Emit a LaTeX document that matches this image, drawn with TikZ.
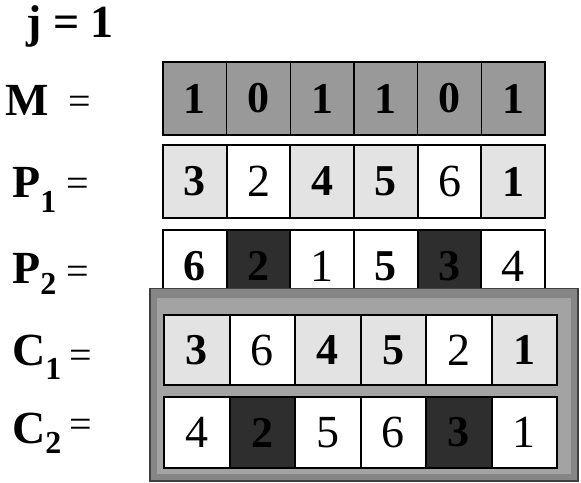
\documentclass[tikz,border=0pt]{standalone}
\usepackage{fontspec}
\setmainfont{Liberation Serif}
\newcommand\numB{\fontsize{44}{44}\selectfont\bfseries}
\newcommand\numR{\fontsize{46}{46}\selectfont}
\newcommand\labB{\fontsize{46}{46}\selectfont\bfseries}
\newcommand\subB{\fontsize{32}{32}\selectfont\bfseries}
\newcommand\eqR{\fontsize{40}{40}\selectfont}
\begin{document}
\begin{tikzpicture}[x=1pt,y=-1pt,
  cell/.style={draw=black,line width=2pt,minimum width=63.67pt,minimum height=73pt,inner sep=0pt,font=\numR},
  ccell/.style={cell,minimum width=65.5pt},
  mcell/.style={cell,fill=gray!80,font=\numB,line width=1.5pt},
  lt/.style={fill=gray!22,font=\numB},
  wr/.style={fill=white,font=\numR},
  wb/.style={fill=white,font=\numB},
  dk/.style={fill=black!82,font=\numB},
  lab/.style={anchor=base west,inner sep=0pt,font=\labB},
  eq/.style={anchor=base west,inner sep=0pt,font=\eqR}]
\useasboundingbox (0,0) rectangle (581,482);
% title
\node[lab] (j) at (26,37) {j = 1};
% labels
\node[lab] (lM) at (5,115) {M};
\node[eq] (eM) at (68,114) {=};
\node[lab] (lP1) at (12,197) {P\raisebox{-15pt}{\subB 1}};
\node[eq] (eP1) at (66,196) {=};
\node[lab] (lP2) at (12,283) {P\raisebox{-11pt}{\subB 2}};
\node[eq] (eP2) at (66,284) {=};
\node[lab] (lC1) at (12,365) {C\raisebox{-14pt}{\subB 1}};
\node[eq] (eC1) at (69,368) {=};
\node[lab] (lC2) at (12,443) {C\raisebox{-10pt}{\subB 2}};
\node[eq] (eC2) at (69,437) {=};
% M row
\node[mcell] (m1) at (194.8,98.5) {1};
\node[mcell] (m2) at (258.5,98.5) {0};
\node[mcell] (m3) at (322.2,98.5) {1};
\node[mcell] (m4) at (385.8,98.5) {1};
\node[mcell] (m5) at (449.5,98.5) {0};
\node[mcell] (m6) at (513.2,98.5) {1};
% P1 row
\node[cell,lt] (p11) at (194.8,181.5) {3};
\node[cell,wr] (p12) at (258.5,181.5) {2};
\node[cell,lt] (p13) at (322.2,181.5) {4};
\node[cell,lt] (p14) at (385.8,181.5) {5};
\node[cell,wr] (p15) at (449.5,181.5) {6};
\node[cell,lt] (p16) at (513.2,181.5) {1};
% P2 row
\node[cell,wb] (p21) at (194.8,266) {6};
\node[cell,dk] (p22) at (258.5,266) {2};
\node[cell,wr] (p23) at (322.2,266) {1};
\node[cell,wb] (p24) at (385.8,266) {5};
\node[cell,dk] (p25) at (449.5,266) {3};
\node[cell,wr] (p26) at (513.2,266) {4};
% frame
\path[fill=gray!95,draw=gray!50!black,line width=1.5pt] (150,288.5) rectangle (578,481);
\path[fill=gray!72] (157,298) rectangle (571,474);
% C1 row
\node[ccell,lt,minimum height=70pt] (c11) at (196.75,350) {3};
\node[ccell,wr,minimum height=70pt] (c12) at (262.25,350) {6};
\node[ccell,lt,minimum height=70pt] (c13) at (327.75,350) {4};
\node[ccell,lt,minimum height=70pt] (c14) at (393.25,350) {5};
\node[ccell,wr,minimum height=70pt] (c15) at (458.75,350) {2};
\node[ccell,lt,minimum height=70pt] (c16) at (524.25,350) {1};
% C2 row
\node[ccell,wr,minimum height=71pt] (c21) at (196.75,432.5) {4};
\node[ccell,dk,minimum height=71pt] (c22) at (262.25,432.5) {2};
\node[ccell,wr,minimum height=71pt] (c23) at (327.75,432.5) {5};
\node[ccell,wr,minimum height=71pt] (c24) at (393.25,432.5) {6};
\node[ccell,dk,minimum height=71pt] (c25) at (458.75,432.5) {3};
\node[ccell,wr,minimum height=71pt] (c26) at (524.25,432.5) {1};
\end{tikzpicture}
\end{document}
